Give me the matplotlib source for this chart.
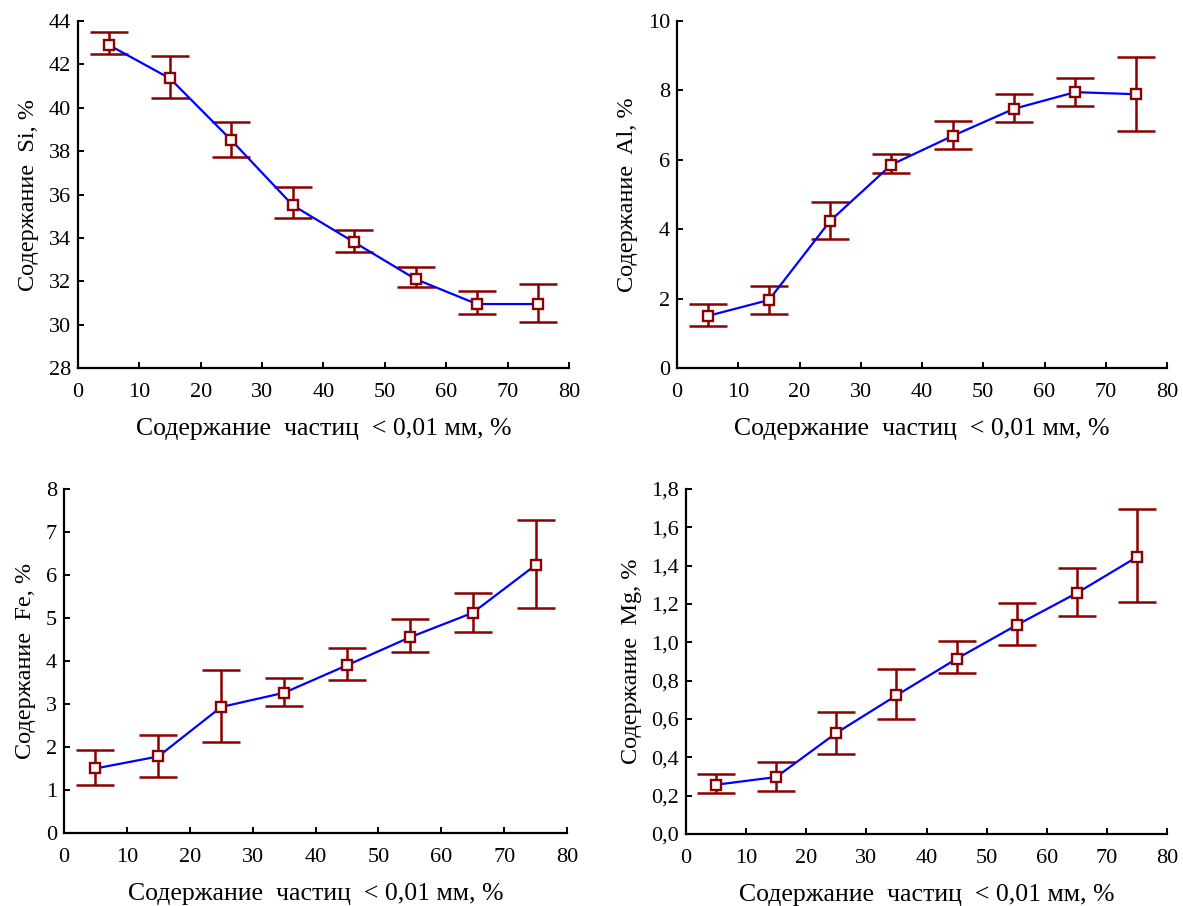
import matplotlib
matplotlib.use("Agg")
import matplotlib.pyplot as plt
import numpy as np

plt.rcParams['font.family'] = ['Liberation Serif', 'DejaVu Serif']

# fraction of particles < 0.01 mm, % (bin centres)
x = [5, 15, 25, 35, 45, 55, 65, 75]

si = [42.9, 41.35, 38.5, 35.5, 33.8, 32.1, 30.95, 30.95]
si_hi = [43.5, 42.4, 39.35, 36.35, 34.37, 32.66, 31.55, 31.88]
si_lo = [42.48, 40.47, 37.75, 34.92, 33.35, 31.74, 30.5, 30.13]

al = [1.5, 1.96, 4.24, 5.86, 6.69, 7.47, 7.95, 7.89]
al_hi = [1.84, 2.36, 4.78, 6.18, 7.12, 7.9, 8.36, 8.97]
al_lo = [1.21, 1.56, 3.72, 5.62, 6.31, 7.1, 7.54, 6.83]

fe = [1.5, 1.78, 2.93, 3.26, 3.9, 4.55, 5.12, 6.23]
fe_hi = [1.92, 2.29, 3.78, 3.6, 4.31, 4.98, 5.58, 7.27]
fe_lo = [1.11, 1.3, 2.11, 2.96, 3.55, 4.21, 4.68, 5.24]

mg = [0.257, 0.297, 0.527, 0.723, 0.914, 1.09, 1.257, 1.445]
mg_hi = [0.313, 0.374, 0.638, 0.861, 1.005, 1.203, 1.388, 1.693]
mg_lo = [0.212, 0.224, 0.417, 0.6, 0.838, 0.984, 1.139, 1.212]

panels = [
    (si, si_lo, si_hi, 'Si', (28, 44), np.arange(28, 45, 2), None, [0.0659, 0.5938, 0.4151, 0.383]),
    (al, al_lo, al_hi, 'Al', (0, 10), np.arange(0, 11, 2), None, [0.5723, 0.5938, 0.4142, 0.383]),
    (fe, fe_lo, fe_hi, 'Fe', (0, 8), np.arange(0, 9, 1), None, [0.0541, 0.0806, 0.4252, 0.3797]),
    (mg, mg_lo, mg_hi, 'Mg', (0, 1.8), np.arange(0, 1.81, 0.2), '{:.1f}', [0.5799, 0.0795, 0.4066, 0.3808]),
]

err_color = '#8B0000'

fig = plt.figure(figsize=(11.83, 9.06), dpi=100)

for y, lo, hi, el, ylim, yticks, fmt, pos in panels:
    ax = fig.add_axes(pos)
    y = np.array(y)
    yerr = [y - np.array(lo), np.array(hi) - y]
    ax.errorbar(x, y, yerr=yerr, fmt='none', ecolor=err_color, elinewidth=1.8,
                capsize=14, capthick=1.8, zorder=2)
    ax.plot(x, y, color='#0000FF', lw=1.6, zorder=3)
    ax.plot(x, y, ls='none', marker='s', ms=7.5, mfc='white', mec=err_color,
            mew=1.7, zorder=4)

    ax.set_xlim(0, 80)
    ax.set_ylim(*ylim)
    ax.set_xticks(np.arange(0, 81, 10))
    ax.set_yticks(yticks)
    if fmt:
        ax.set_yticklabels([fmt.format(v).replace('.', ',') for v in yticks])
    for s in ('top', 'right'):
        ax.spines[s].set_visible(False)
    for s in ('left', 'bottom'):
        ax.spines[s].set_linewidth(1.6)
    ax.tick_params(direction='in', length=4, width=1.4, labelsize=16)
    ax.tick_params(axis='x', pad=11)
    ax.tick_params(axis='y', pad=5)
    ax.set_xlabel('Содержание  частиц  < 0,01 мм, %', fontsize=18.5, labelpad=11)
    ax.set_ylabel(f'Содержание  {el}, %', fontsize=17.5, labelpad=7)

fig.savefig('out.png', dpi=100)
